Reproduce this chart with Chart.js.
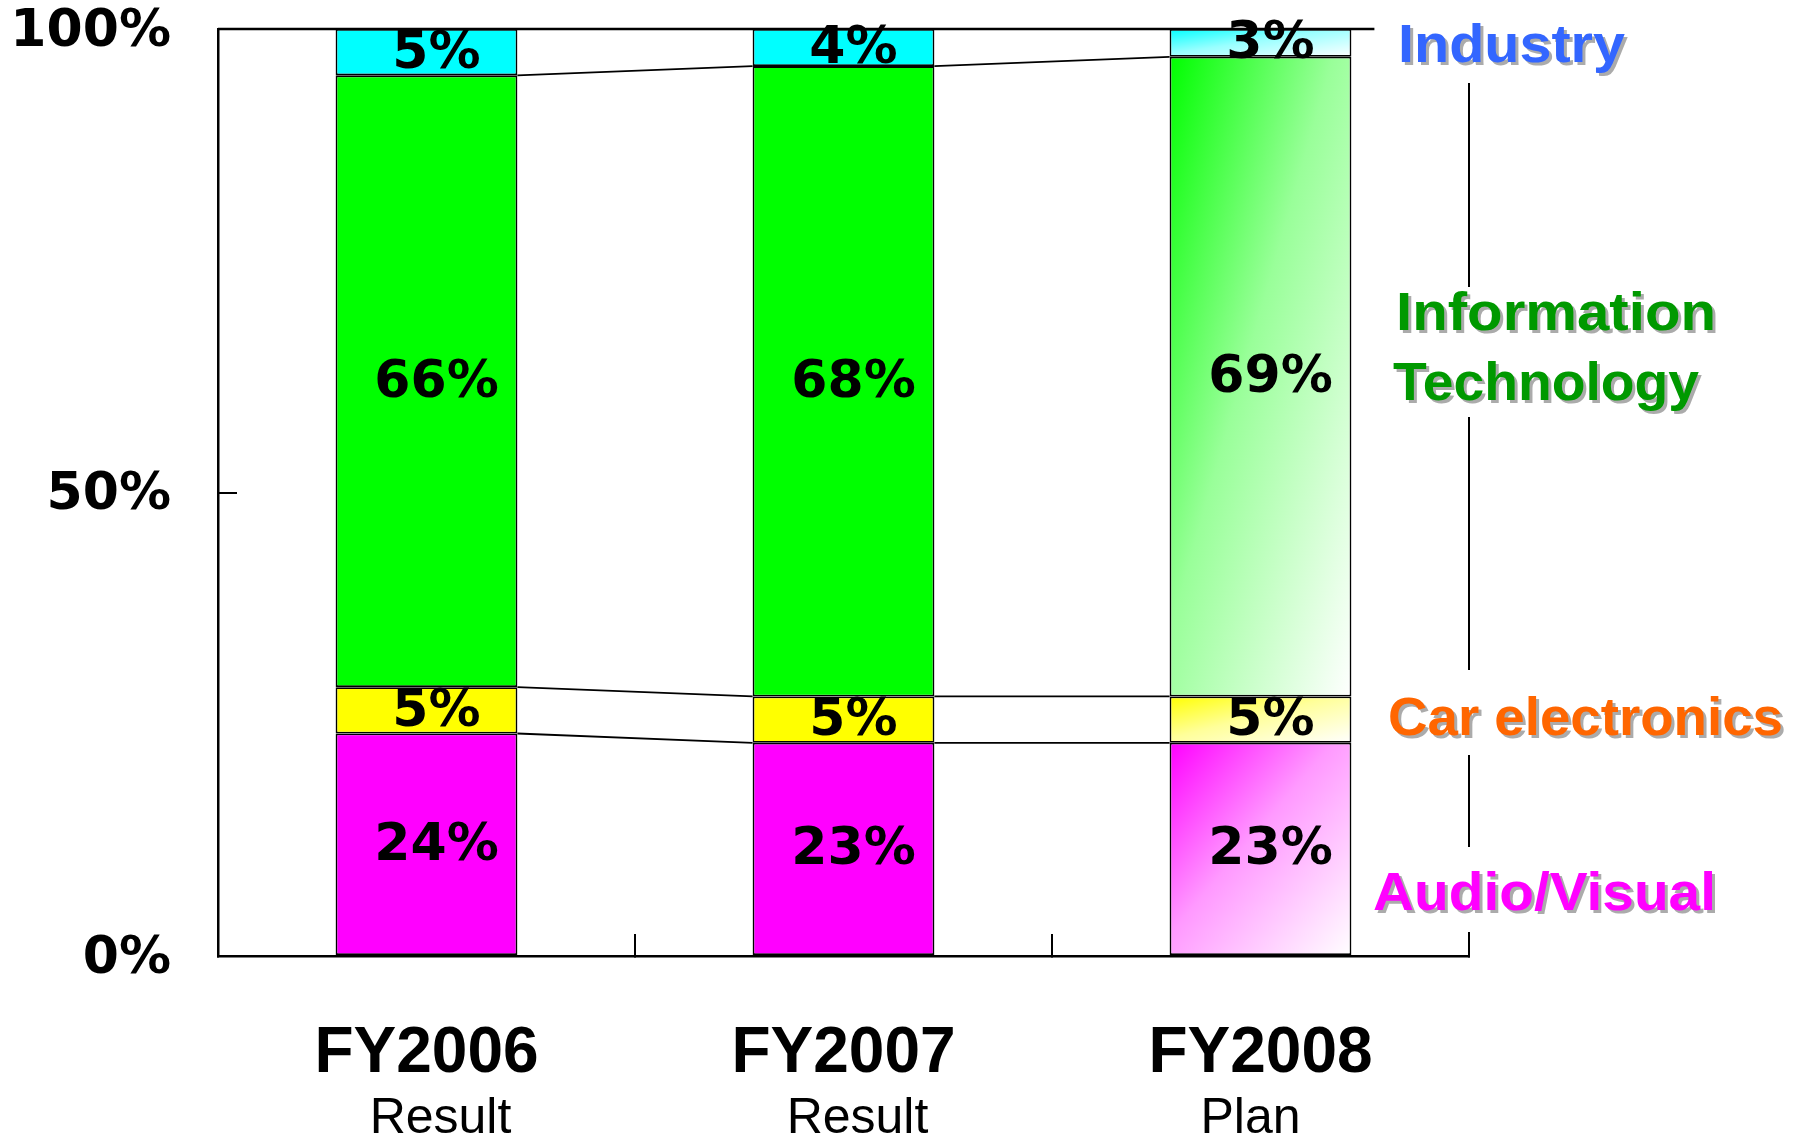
<!DOCTYPE html>
<html>
<head>
<meta charset="utf-8">
<title>Sales composition by segment</title>
<script src="https://cdn.jsdelivr.net/npm/chart.js@4"></script>
<style>
  html, body { margin: 0; padding: 0; background: #fff; }
  #wrap { width: 1794px; height: 1138px; }
</style>
</head>
<body>
<div id="wrap"><canvas id="grafico"></canvas></div>
<script>
// Chart data (share of sales, %)
const categories = ['FY2006', 'FY2007', 'FY2008'];
const subLabels = ['Result', 'Result', 'Plan'];
const audioVisual = [24, 23, 23];
const carElectronics = [5, 5, 5];
const informationTech = [66, 68, 69];
const industry = [5, 4, 3];
const yTicks = [0, 50, 100];

const seriesValues = [audioVisual, carElectronics, informationTech, industry];
const seriesNames = ['Audio/Visual', 'Car electronics', 'Information Technology', 'Industry'];
const seriesColors = ['#ff00ff', '#ffff00', '#00ff00', '#00ffff'];

const planIndex = 2;   // the plan column gets a faded gradient
const barPct = 0.436;

// labels on the right, with the gap they cut in the right-hand line
const sideLabels = [
  { lines: ['Industry'], color: '#3366ff', x: [1398], base: [62], width: [227], gap: [0, 83] },
  { lines: ['Information', 'Technology'], color: '#009900', x: [1396, 1393], base: [330, 400], width: [320, 306], gap: [287, 417] },
  { lines: ['Car electronics'], color: '#ff6600', x: [1388], base: [735], width: [395], gap: [670, 755] },
  { lines: ['Audio/Visual'], color: '#ff00ff', x: [1373], base: [910], width: [343], gap: [847, 932] }
];

// mix a hex colour with white
function tint(hex, f) {
  const n = parseInt(hex.slice(1), 16);
  const ch = [(n >> 16) & 255, (n >> 8) & 255, n & 255].map(v => Math.round(v + (255 - v) * f));
  return `rgb(${ch[0]},${ch[1]},${ch[2]})`;
}

// diagonal gradient for the plan bar (solid top-left -> white bottom-right)
function fill(k) {
  return (ctx) => {
    const solid = seriesColors[k];
    const chart = ctx.chart;
    if (ctx.type !== 'data' || ctx.dataIndex !== planIndex || !chart.chartArea) return solid;
    const xs = chart.scales.x, ys = chart.scales.y;
    let base = 0;
    for (let i = 0; i < k; i++) base += seriesValues[i][planIndex];
    const top = base + seriesValues[k][planIndex];
    const half = (xs.getPixelForValue(1) - xs.getPixelForValue(0)) * barPct / 2;
    const x0 = xs.getPixelForValue(planIndex) - half;
    const y0 = ys.getPixelForValue(top);
    const w = half * 2, h = ys.getPixelForValue(base) - y0;
    const vx = 1 / (2 * w), vy = 1 / (2 * h);
    const n = vx * vx + vy * vy;
    const g = chart.ctx.createLinearGradient(x0, y0, x0 + vx / n, y0 + vy / n);
    g.addColorStop(0, solid);
    g.addColorStop(0.45, tint(solid, 0.6));
    g.addColorStop(1, '#ffffff');
    return g;
  };
}

function fitText(c, text, x, y, w) {
  const m = c.measureText(text).width;
  c.save();
  c.translate(x, y);
  c.scale(w / m, 1);
  c.fillText(text, 0, 0);
  c.restore();
}

// connecting lines, value labels, side labels, category labels
const decor = {
  id: 'decor',
  afterDatasetsDraw(chart) {
    const c = chart.ctx;
    const metas = seriesValues.map((v, k) => chart.getDatasetMeta(k));
    c.save();
    c.strokeStyle = '#000';
    c.lineWidth = 1.8;
    for (let k = 0; k < seriesValues.length - 1; k++) {
      const els = metas[k].data;
      for (let i = 0; i < els.length - 1; i++) {
        const a = els[i], b = els[i + 1];
        c.beginPath();
        c.moveTo(a.x + a.width / 2, a.y);
        c.lineTo(b.x - b.width / 2, b.y);
        c.stroke();
      }
    }
    // value labels
    c.fillStyle = '#000';
    c.font = 'bold 52px "DejaVu Sans"';
    c.textAlign = 'center';
    c.textBaseline = 'middle';
    seriesValues.forEach((vals, k) => {
      metas[k].data.forEach((el, i) => {
        c.fillText(vals[i] + '%', el.x + 10, (el.y + el.base) / 2 + 2);
      });
    });
    c.restore();
  },
  afterDraw(chart) {
    const c = chart.ctx;
    const area = chart.chartArea;
    const xs = chart.scales.x, ys = chart.scales.y;
    c.save();
    // top line at 100%
    const last = chart.getDatasetMeta(seriesValues.length - 1).data;
    const lastEl = last[last.length - 1];
    c.strokeStyle = '#000';
    c.lineWidth = 2.5;
    c.beginPath();
    c.moveTo(area.left, ys.getPixelForValue(100));
    c.lineTo(lastEl.x + lastEl.width / 2 + 23, ys.getPixelForValue(100));
    c.stroke();
    // right-hand line broken by the labels
    const gaps = sideLabels.map(l => l.gap).sort((a, b) => a[0] - b[0]);
    c.lineWidth = 2;
    for (let g = 0; g < gaps.length; g++) {
      const y1 = gaps[g][1];
      const y2 = g + 1 < gaps.length ? gaps[g + 1][0] : area.bottom;
      c.beginPath();
      c.moveTo(area.right, y1);
      c.lineTo(area.right, y2);
      c.stroke();
    }
    // side labels
    c.font = 'bold 54px "Liberation Sans"';
    c.textAlign = 'left';
    c.textBaseline = 'alphabetic';
    c.shadowColor = 'rgba(150,150,150,0.8)';
    c.shadowOffsetX = 3;
    c.shadowOffsetY = 3;
    c.shadowBlur = 0;
    sideLabels.forEach(l => {
      c.fillStyle = l.color;
      l.lines.forEach((t, j) => fitText(c, t, l.x[j], l.base[j], l.width[j]));
    });
    c.shadowColor = 'transparent';
    // category labels
    c.fillStyle = '#000';
    c.textAlign = 'center';
    categories.forEach((cat, i) => {
      const cx = xs.getPixelForValue(i);
      c.font = 'bold 64px "Liberation Sans"';
      c.fillText(cat, cx, 1072);
      c.font = '50px "Liberation Sans"';
      c.fillText(subLabels[i], cx + (subLabels[i] === 'Plan' ? -10 : 14), 1133);
    });
    c.restore();
  }
};

new Chart(document.getElementById('grafico'), {
  type: 'bar',
  data: {
    labels: categories,
    datasets: seriesValues.map((vals, k) => ({
      label: seriesNames[k],
      data: vals,
      backgroundColor: fill(k),
      borderColor: '#000',
      borderWidth: 1.8,
      borderSkipped: false,
      categoryPercentage: 1,
      barPercentage: barPct
    }))
  },
  options: {
    responsive: true,
    maintainAspectRatio: false,
    animation: false,
    events: [],
    layout: { padding: { top: 29, right: 325, left: 0, bottom: 0 } },
    plugins: { legend: { display: false }, tooltip: { enabled: false } },
    scales: {
      x: {
        stacked: true,
        z: 1,
        ticks: { display: false },
        grid: { drawOnChartArea: false, drawTicks: true, tickLength: -22, color: '#000', lineWidth: 2, offset: true },
        border: { display: true, color: '#000', width: 2.5 },
        afterFit: s => { s.height = 182; s.paddingLeft = 0; s.paddingRight = 0; }
      },
      y: {
        stacked: true,
        z: 1,
        min: 0,
        max: 100,
        afterBuildTicks: s => { s.ticks = yTicks.map(v => ({ value: v })); },
        ticks: {
          callback: v => v + '%',
          color: '#000',
          font: { family: 'DejaVu Sans', weight: 'bold', size: 52, lineHeight: 1 },
          padding: 47 + 19,
          labelOffset: 3
        },
        grid: { drawOnChartArea: false, drawTicks: true, tickLength: -19, color: '#000', lineWidth: 2 },
        border: { display: true, color: '#000', width: 2.5 },
        afterFit: s => { s.width = 218; s.paddingTop = 0; s.paddingBottom = 0; }
      }
    }
  },
  plugins: [decor]
});
</script>
</body>
</html>
